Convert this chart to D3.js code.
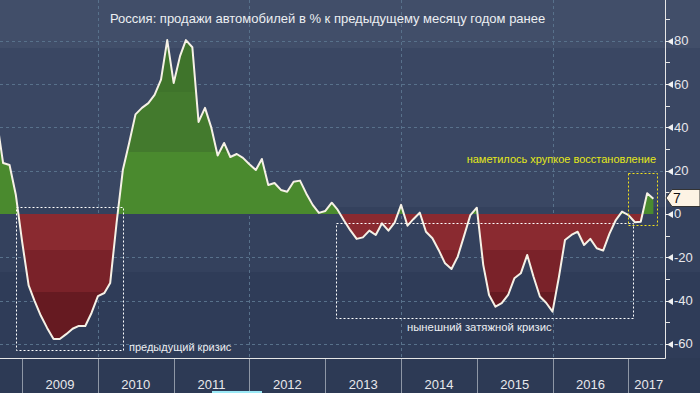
<!DOCTYPE html>
<html><head><meta charset="utf-8">
<script src="https://cdn.jsdelivr.net/npm/d3@7"></script>
<style>html,body{margin:0;padding:0;background:#2d3a55;}svg{display:block;}</style>
</head><body>
<script>
// ---- data ----
const titleText = "Россия: продажи автомобилей в % к предыдущему месяцу годом ранее";
const firstMonth = [2008, 7]; // August 2008 (month index 0-based)
const values = [
  43, 23.5, 22.6, 9, -13,                                              // 2008 Aug-Dec
  -33, -40, -47, -52.6, -57.7, -57.7, -55.5, -53, -51.7, -51.7, -45.7, -37.9, // 2009
  -36.5, -31.9, -4, 20.3, 33, 46, 49, 51.2, 55, 62, 80.3, 60.5,          // 2010
  73, 80.3, 77, 42.5, 49, 40, 27, 32.8, 26.3, 27.7, 25.9, 23,            // 2011
  20.3, 25.4, 13.4, 14.3, 11.1, 10.3, 14.9, 15.4, 9.5, 4.2, 0.5, 1.4,    // 2012
  5.2, 2, -3, -7.5, -11.5, -10.8, -7.7, -9.7, -4.3, -7.7, -4, 4.2,       // 2013
  -5.4, -2.4, 0.6, -8.2, -11.2, -16.6, -22.8, -25.4, -19.7, -10, -0.5, 2.9, // 2014
  -23.5, -37.4, -42.8, -41.2, -37.4, -29.7, -27.4, -18.9, -28.9, -38.1, -41, -45.1, // 2015
  -29, -12, -9.7, -8.2, -14.3, -11.5, -15.8, -16.9, -9.2, -2.8, 1.1, -0.5, // 2016
  -3.8, -3.6, 9.6, 7                                                    // 2017
];
const yearLabels = ["2009","2010","2011","2012","2013","2014","2015","2016","2017"];
const gridYears = [2010, 2012, 2014, 2016];
const yMajorTicks = [-60, -40, -20, 0, 20, 40, 60, 80];
const yMinorTicks = [-50, -30, -10, 10, 30, 50, 70, 90];
const lastValueLabel = "7";
const prevCrisisText = "предыдущий кризис";
const currCrisisText = "нынешний затяжной кризис";
const recoveryText = "наметилось хрупкое восстановление";
// annotation boxes: [startDate, endDate, topValue, bottomValue]
const prevCrisisBox = [new Date(2008, 11, 3), new Date(2010, 4, 1), 3, -63];
const currCrisisBox = [new Date(2013, 1, 20), new Date(2017, 0, 20), -4, -48];
const recoveryBox = [new Date(2017, 0, 1), new Date(2017, 4, 20), 19, -5];

// ---- layout ----
const W = 700, H = 393;
const plotR = 665, plotB = 358;

const dates = values.map((v, i) => new Date(firstMonth[0], firstMonth[1] + i + 1, 1));
const data = values.map((v, i) => ({d: dates[i], v}));

const x = d3.scaleTime().domain([new Date(2008, 8, 16), new Date(2017, 5, 26)]).range([0, plotR]);
const y = d3.scaleLinear().domain([-66.5, 98.8]).range([plotB, 0]);

const svg = d3.select("body").append("svg").attr("width", W).attr("height", H)
  .style("font-family", "'Liberation Sans', Arial, sans-serif");

// background bands
const bg = [[0, 48, "#414e69"], [48, 207, "#3a4763"], [207, 272, "#34415d"], [272, plotB, "#2f3c58"], [plotB, H, "#2d3a55"]];
svg.selectAll("rect.bg").data(bg).join("rect").attr("class", "bg")
  .attr("x", 0).attr("width", W).attr("y", d => d[0]).attr("height", d => d[1] - d[0]).attr("fill", d => d[2]);

// gridlines
const grid = svg.append("g").attr("stroke", "#58718b").attr("stroke-width", 1).attr("stroke-dasharray", "3,3");
grid.selectAll("line.h").data(yMajorTicks.filter(t => t !== 0)).join("line")
  .attr("x1", 0).attr("x2", plotR).attr("y1", d => Math.round(y(d)) + 0.5).attr("y2", d => Math.round(y(d)) + 0.5);
grid.selectAll("line.v").data(gridYears).join("line")
  .attr("y1", 0).attr("y2", plotB).attr("x1", d => Math.round(x(new Date(d, 0, 1))) + 0.5).attr("x2", d => Math.round(x(new Date(d, 0, 1))) + 0.5);

// gradient for area
const defs = svg.append("defs");
const y0 = y(0);
const grad = defs.append("linearGradient").attr("id", "areaGrad").attr("gradientUnits", "userSpaceOnUse")
  .attr("x1", 0).attr("x2", 0).attr("y1", 0).attr("y2", plotB);
const bands = [[0, 92, "#3f742b"], [92, 152, "#437a2d"], [152, y0, "#4a8a2e"], [y0, 250, "#8a2a30"], [250, 292, "#7a2229"], [292, plotB, "#661a21"]];
bands.forEach(b => {
  grad.append("stop").attr("offset", b[0] / plotB).attr("stop-color", b[2]);
  grad.append("stop").attr("offset", b[1] / plotB).attr("stop-color", b[2]);
});
defs.append("clipPath").attr("id", "plotClip").append("rect").attr("x", 0).attr("y", 0).attr("width", plotR).attr("height", plotB);

const gPlot = svg.append("g").attr("clip-path", "url(#plotClip)");
const area = d3.area().x(d => x(d.d)).y0(y0).y1(d => y(d.v));
gPlot.append("path").datum(data).attr("d", area).attr("fill", "url(#areaGrad)");

// annotation boxes (dotted)
function boxRect(b, color) {
  const x1 = x(b[0]), x2 = x(b[1]), y1 = y(b[2]), y2 = y(b[3]);
  svg.append("rect").attr("x", Math.round(x1) + 0.5).attr("y", Math.round(y1) + 0.5)
    .attr("width", Math.round(x2 - x1)).attr("height", Math.round(y2 - y1))
    .attr("fill", "none").attr("stroke", color).attr("stroke-width", 1).attr("stroke-dasharray", "2,2");
}
boxRect(prevCrisisBox, "#ffffff");
boxRect(currCrisisBox, "#ffffff");
boxRect(recoveryBox, "#f2e21c");

// line
const line = d3.line().x(d => x(d.d)).y(d => y(d.v));
gPlot.append("path").datum(data).attr("d", line).attr("fill", "none")
  .attr("stroke", "#f6f1e6").attr("stroke-width", 2).attr("stroke-linejoin", "round");

// axes lines
svg.append("line").attr("x1", 0).attr("x2", plotR + 0.5).attr("y1", plotB + 0.5).attr("y2", plotB + 0.5).attr("stroke", "#e6e6e6");
svg.append("line").attr("x1", plotR + 0.5).attr("x2", plotR + 0.5).attr("y1", 0).attr("y2", plotB + 0.5).attr("stroke", "#e6e6e6");

// bottom year ticks & labels
const yearStarts = yearLabels.map(t => new Date(+t, 0, 1));
svg.selectAll("line.yt").data(yearStarts).join("line")
  .attr("x1", d => Math.round(x(d)) + 0.5).attr("x2", d => Math.round(x(d)) + 0.5)
  .attr("y1", plotB + 1).attr("y2", H).attr("stroke", "#8e97a6");
svg.selectAll("text.yl").data(yearLabels).join("text")
  .attr("x", (t, i) => {
    const a = x(new Date(+t, 0, 1)), b = Math.min(plotR + 4, x(new Date(+t + 1, 0, 1)));
    return (a + b) / 2;
  })
  .attr("y", 389).attr("text-anchor", "middle").attr("fill", "#e8e8ec").attr("font-size", 13)
  .text(t => t);
svg.append("rect").attr("x", 212).attr("y", 391).attr("width", 50).attr("height", 2).attr("fill", "#9be9f6");

// right axis ticks
const axisG = svg.append("g");
axisG.selectAll("line.minor").data(yMinorTicks).join("line")
  .attr("x1", plotR).attr("x2", plotR + 5).attr("y1", d => Math.round(y(d)) + 0.5).attr("y2", d => Math.round(y(d)) + 0.5)
  .attr("stroke", "#e6e6e6");
axisG.selectAll("path.major").data(yMajorTicks).join("path")
  .attr("d", d => { const yy = Math.round(y(d)) + 0.5; return `M${plotR},${yy - 0.5}L${plotR + 3},${yy - 0.5}L${plotR + 8},${yy - 3.5}L${plotR + 8},${yy + 3.5}L${plotR + 3},${yy + 0.5}L${plotR},${yy + 0.5}Z`; })
  .attr("fill", "#f0f0f0");
axisG.selectAll("text.yl").data(yMajorTicks).join("text")
  .attr("x", plotR + 9).attr("y", d => y(d) + 4.5).attr("fill", "#e8e8ec").attr("font-size", 13)
  .text(d => d < 0 ? "-" + Math.abs(d) : d);

// last value label
const ly = Math.round(y(values[values.length - 1])) - 1;
svg.append("path")
  .attr("d", `M${plotR + 1},${ly}L${plotR + 7},${ly - 8.5}L${W},${ly - 8.5}L${W},${ly + 8.5}L${plotR + 7},${ly + 8.5}Z`)
  .attr("fill", "#fdf3e4").attr("stroke", "#333");
svg.append("text").attr("x", plotR + 8).attr("y", ly + 5).attr("font-size", 14).attr("fill", "#111").text(lastValueLabel);

// title & annotations
svg.append("text").attr("x", 110).attr("y", 23).attr("fill", "#eceef2").attr("font-size", 13).text(titleText);
svg.append("text").attr("x", 129).attr("y", 351).attr("fill", "#eceef2").attr("font-size", 11).text(prevCrisisText);
svg.append("text").attr("x", 407).attr("y", 331).attr("fill", "#eceef2").attr("font-size", 11.3).text(currCrisisText);
svg.append("text").attr("x", 656).attr("y", 163).attr("text-anchor", "end").attr("fill", "#e4e81a").attr("font-size", 11).text(recoveryText);
</script>
</body></html>
